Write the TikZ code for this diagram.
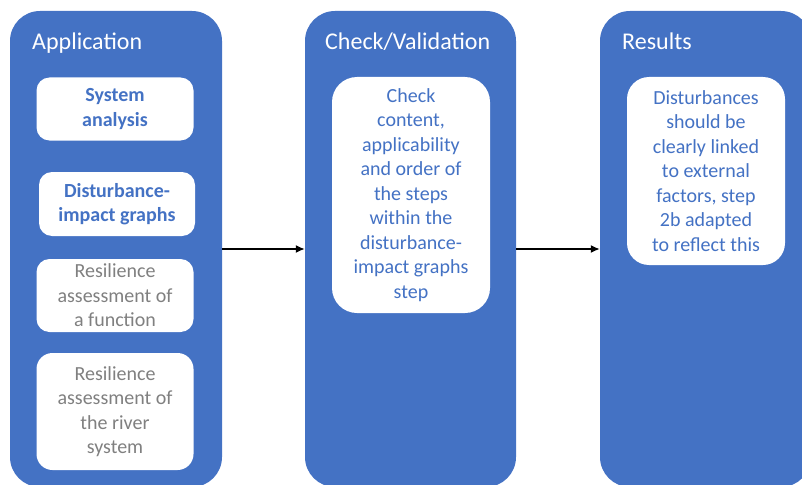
\documentclass[tikz,border=0pt]{standalone}
\usepackage{fontspec}
\setmainfont{Carlito}
\usetikzlibrary{arrows.meta}
\definecolor{colblue}{HTML}{4472C4}
\definecolor{txtblue}{HTML}{4472C4}
\definecolor{txtgray}{HTML}{808080}
\begin{document}
\begin{tikzpicture}[x=1pt,y=-1pt,
  column/.style={fill=colblue,draw=none,rounded corners=30pt,inner sep=0pt},
  title/.style={text=white,font=\fontsize{24}{29}\selectfont,inner sep=0pt,anchor=base west},
  card/.style={fill=white,draw=none,rounded corners=13pt,inner sep=0pt,align=center,
    font=\fontsize{20}{24.5}\selectfont},
  bluebold/.style={card,text=txtblue,font=\fontsize{20}{24.5}\selectfont\bfseries},
  bluetext/.style={card,text=txtblue},
  graytext/.style={card,text=txtgray},
  flow/.style={-{Latex[length=9pt,width=8pt]},line width=1.5pt,black}]
\useasboundingbox (0,0) rectangle (802,484);
\clip (0,0) rectangle (802,484);
% columns
\node[column,minimum width=212pt,minimum height=476pt] (c1) at (116,249) {};
\node[column,minimum width=211pt,minimum height=476pt] (c2) at (410.5,249) {};
\node[column,minimum width=211pt,minimum height=476pt] (c3) at (705.5,249) {};
% titles
\node[title] (t1) at (32,50) {Application};
\node[title] (t2) at (325,50) {Check/Validation};
\node[title] (t3) at (622,50) {Results};
% column 1 cards
\node[bluebold,minimum width=157pt,minimum height=63pt] (a1) at (115,109) {System\\analysis};
\node[bluebold,minimum width=156pt,minimum height=64pt] (a2) at (117,204) {Disturbance-\\impact graphs};
\node[graytext,minimum width=157pt,minimum height=73pt] (a3) at (115,295.5) {Resilience\\assessment of\\a function};
\node[graytext,minimum width=157pt,minimum height=117pt,rounded corners=16pt] (a4) at (115,411.5) {Resilience\\assessment of\\the river\\system};
% column 2 card
\node[bluetext,minimum width=158pt,minimum height=236pt,rounded corners=25pt] (b1) at (411,195) {Check\\content,\\applicability\\and order of\\the steps\\within the\\disturbance-\\impact graphs\\step};
% column 3 card
\node[bluetext,minimum width=158pt,minimum height=188pt,rounded corners=22pt] (r1) at (706,171) {Disturbances\\should be\\clearly linked\\to external\\factors, step\\2b adapted\\to reflect this};
% arrows
\draw[flow] (c1.east) -- (c2.west);
\draw[flow] (c2.east) -- (c3.west);
\end{tikzpicture}
\end{document}
